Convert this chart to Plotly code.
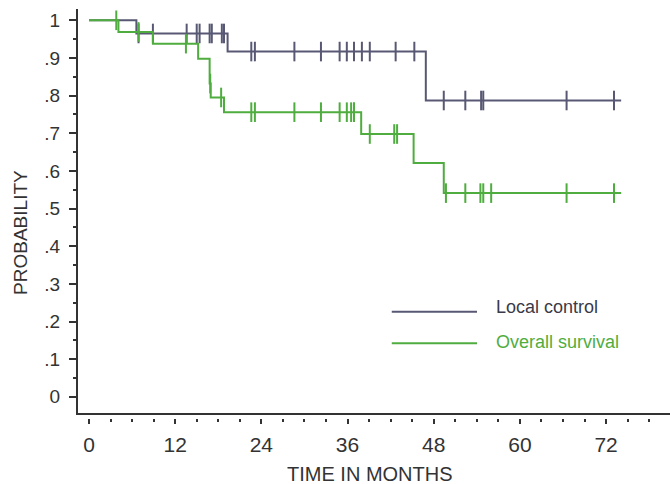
import plotly.graph_objects as go

# Local control (Kaplan-Meier steps)
lc_times = [0, 6.6, 19.3, 46.9]
lc_surv = [1.0, 0.965, 0.917, 0.787]
lc_end = 74.1
lc_cens_t = [6.9, 8.9, 13.6, 15.0, 15.4, 16.8, 17.1, 18.5, 18.8,
             22.6, 23.1, 28.6, 32.3, 34.9, 35.9, 36.9, 38.0, 39.1, 42.7, 45.3,
             49.4, 52.4, 54.6, 54.9, 66.5, 73.1]

# Overall survival
os_times = [0, 4.1, 8.9, 15.2, 16.8, 16.95, 18.8, 37.9, 45.2, 49.4]
os_surv = [1.0, 0.969, 0.938, 0.898, 0.832, 0.795, 0.756, 0.698, 0.621, 0.541]
os_end = 74.1
os_cens_t = [3.8, 6.9, 13.5, 16.88, 18.4,
             22.6, 23.1, 28.6, 32.3, 34.9, 35.9, 36.5, 36.9,
             39.1, 42.5, 42.9,
             49.7, 52.4, 54.5, 54.9, 56.0, 66.5, 73.1]

x_ticks = [0, 12, 24, 36, 48, 60, 72]
y_ticks = [0, 0.1, 0.2, 0.3, 0.4, 0.5, 0.6, 0.7, 0.8, 0.9, 1.0]
y_ticktext = ["0", ".1", ".2", ".3", ".4", ".5", ".6", ".7", ".8", ".9", "1"]

series_names = ["Local control", "Overall survival"]
DARK = "#585874"
GREEN = "#4fad3f"
AX = "#333333"
FONT = "Liberation Sans, Arial, sans-serif"
X_RANGE = [-1.53, 80.9]


def step_value(times, surv, t):
    v = surv[0]
    for ti, si in zip(times, surv):
        if t >= ti:
            v = si
    return v


fig = go.Figure()
for times, surv, end, cens, col in [
    (lc_times, lc_surv, lc_end, lc_cens_t, DARK),
    (os_times, os_surv, os_end, os_cens_t, GREEN),
]:
    fig.add_trace(go.Scatter(
        x=times + [end], y=surv + [surv[-1]], mode="lines",
        line=dict(color=col, width=2, shape="hv"), showlegend=False,
        hoverinfo="skip"))
    fig.add_trace(go.Scatter(
        x=cens, y=[step_value(times, surv, t) for t in cens], mode="markers",
        marker=dict(symbol="line-ns", size=14, line=dict(color=col, width=2)),
        showlegend=False, hoverinfo="skip"))

# invisible trace on the detached tick axis
fig.add_trace(go.Scatter(x=X_RANGE, y=[0, 0], xaxis="x2", mode="lines",
                         line=dict(width=0), showlegend=False, hoverinfo="skip"))

# manual legend
legend_rows = [(series_names[0], DARK, "#3a3a48", 0.260, 0.272),
               (series_names[1], GREEN, GREEN, 0.183, 0.187)]
for name, col, tcol, ly, ty in legend_rows:
    fig.add_shape(type="line", xref="paper", yref="paper",
                  x0=0.530, x1=0.674, y0=ly, y1=ly,
                  line=dict(color=col, width=2))
    fig.add_annotation(xref="paper", yref="paper", x=0.702, y=ty,
                       text=name, showarrow=False, xanchor="left", yanchor="middle",
                       font=dict(family=FONT, size=18, color=tcol))

fig.add_annotation(xref="paper", yref="paper", x=-0.0963, y=0.455,
                   text="PROBABILITY", textangle=-90, showarrow=False,
                   xanchor="center", yanchor="middle",
                   font=dict(family=FONT, size=19, color=AX))
fig.add_annotation(xref="paper", yref="paper", x=0.493, y=-0.137,
                   text="TIME IN MONTHS", showarrow=False,
                   xanchor="center", yanchor="middle",
                   font=dict(family=FONT, size=20, color=AX))

fig.update_layout(
    width=670, height=484,
    margin=dict(l=78, r=0, t=9, b=66),
    paper_bgcolor="white", plot_bgcolor="white",
    font=dict(family=FONT, color=AX),
    xaxis=dict(
        range=X_RANGE, showline=True, linecolor=AX, linewidth=2,
        showgrid=False, zeroline=False, showticklabels=False, ticks="",
    ),
    xaxis2=dict(
        range=X_RANGE, overlaying="x", anchor="free", position=0, side="bottom",
        tickvals=x_ticks, ticks="outside", ticklen=5, tickwidth=2, tickcolor=AX,
        showline=False, showgrid=False, zeroline=False,
        tickfont=dict(size=21, color=AX), ticklabelstandoff=3,
        minor=dict(dtick=3, tick0=0, ticks="outside", ticklen=3, tickwidth=2,
                   tickcolor=AX, showgrid=False),
    ),
    yaxis=dict(
        domain=[0.0122, 1], range=[-0.043, 1.03], tickvals=y_ticks, ticktext=y_ticktext,
        ticks="outside", ticklen=7, tickwidth=2, tickcolor=AX,
        showline=True, linecolor=AX, linewidth=2, showgrid=False, zeroline=False,
        tickfont=dict(size=19, color=AX), ticklabelstandoff=5,
        minor=dict(dtick=0.05, tick0=0, ticks="outside", ticklen=3, tickwidth=1.5,
                   tickcolor=AX, showgrid=False),
    ),
)

fig.write_html("out.html", config={"displayModeBar": False},
               post_script="document.body.style.margin='0px';document.body.style.overflow='hidden';")
